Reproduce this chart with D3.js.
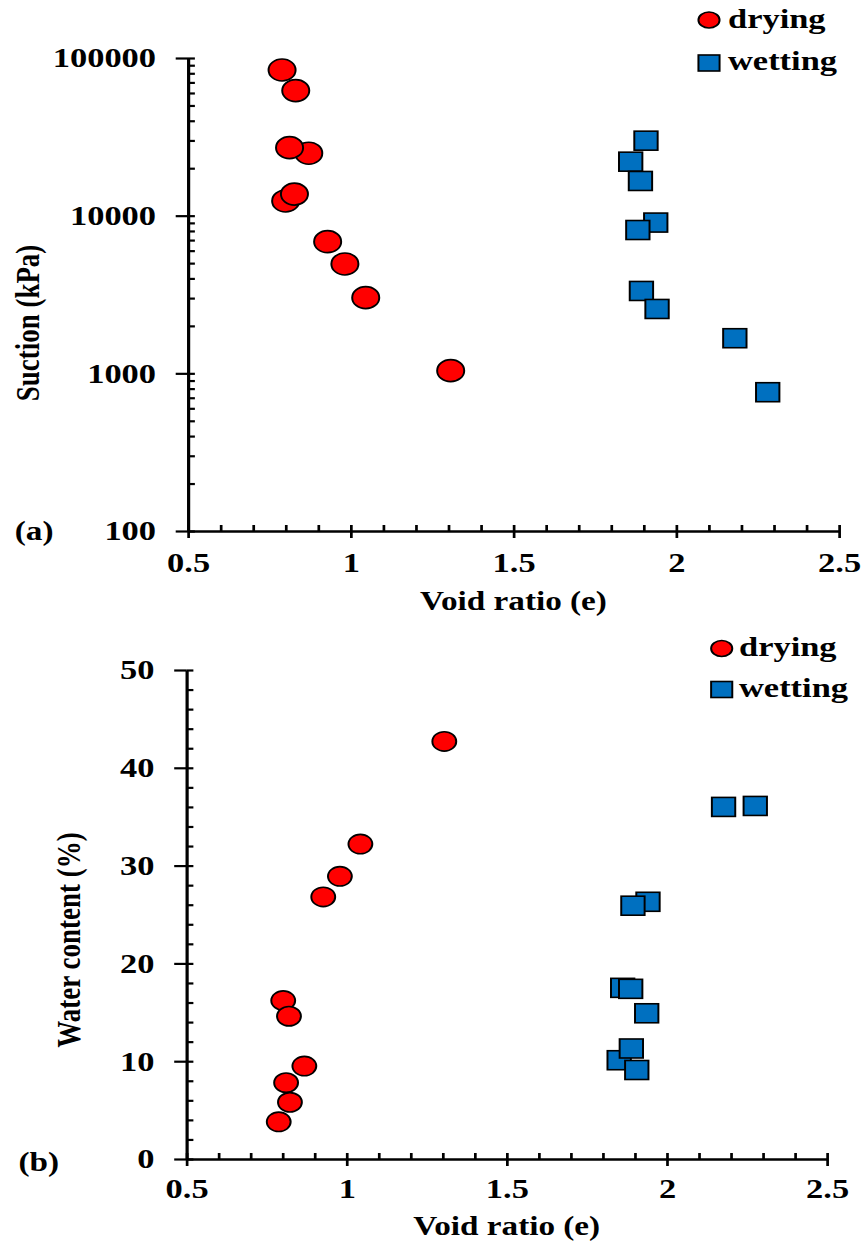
<!DOCTYPE html>
<html>
<head>
<meta charset="utf-8">
<script src="https://cdn.jsdelivr.net/npm/d3@7"></script>
<style>
  body { margin: 0; background: #fff; }
</style>
</head>
<body>
<div id="chart"></div>
<script>
const seriesNames = ['drying', 'wetting'];
const seriesColors = ['#ff0000', '#0070c0'];

// (a) suction vs void ratio
const dryingVoidA = [0.789, 0.831, 0.871, 0.812, 0.800, 0.827, 0.929, 0.982, 1.046, 1.307];
const dryingSuction = [83900, 62100, 24900, 27000, 12400, 13700, 6840, 4940, 3020, 1040];
const wettingVoidA = [1.907, 1.860, 1.890, 1.937, 1.882, 1.893, 1.941, 2.180, 2.281];
const wettingSuction = [29900, 22000, 16600, 9040, 8110, 3330, 2560, 1670, 759];

// (b) water content vs void ratio
const dryingVoidB = [1.305, 1.043, 0.979, 0.927, 0.802, 0.820, 0.868, 0.811, 0.823, 0.788];
const dryingWater = [42.7, 32.2, 28.9, 26.8, 16.2, 14.6, 9.5, 7.8, 5.8, 3.8];
const wettingVoidB = [2.177, 2.276, 1.941, 1.894, 1.862, 1.887, 1.937, 1.851, 1.889, 1.906];
const wettingWater = [36.0, 36.1, 26.3, 25.9, 17.5, 17.4, 14.9, 10.1, 11.3, 9.1];

const xTicks = [0.5, 1, 1.5, 2, 2.5];
const suctionTicks = [100, 1000, 10000, 100000];
const waterTicks = [0, 10, 20, 30, 40, 50];
const panelLabels = ['(a)', '(b)'];

const width = 867, height = 1245;
const stretch = 1.23; // the picture is stretched sideways, so draw narrow and scale
const vx = px => px / stretch;
const fontFamily = '"Liberation Serif", "Times New Roman", Tinos, serif';

const svg = d3.select('#chart')
              .append('svg')
              .attr('width', width)
              .attr('height', height);

const root = svg.append('g').attr('transform', `scale(${stretch},1)`);

function drawPanel(p) {
    const g = root.append('g');
    const x = d3.scaleLinear().domain([0.5, 2.5]).range([vx(p.left), vx(p.right)]);
    const y = p.y;
    const [y0, y1] = y.range();

    // minor ticks, inside
    g.append('g')
     .attr('transform', `translate(0,${y0})`)
     .call(d3.axisBottom(x).tickValues(d3.range(5, 26).map(v => v / 10)).tickSize(-6).tickSizeOuter(0).tickFormat(''))
     .call(a => a.select('.domain').remove());
    g.append('g')
     .attr('transform', `translate(${x.range()[0]},0)`)
     .call(d3.axisLeft(y).tickValues(p.minorTicks).tickSize(-5.6).tickSizeOuter(0).tickFormat(''))
     .call(a => a.select('.domain').remove());

    // major ticks and labels
    const xAxis = g.append('g')
     .attr('transform', `translate(0,${y0})`)
     .call(d3.axisBottom(x).tickValues(xTicks).tickSize(7).tickSizeOuter(0).tickPadding(p.xPad).tickFormat(d => String(d)));
    const yAxis = g.append('g')
     .attr('transform', `translate(${x.range()[0]},0)`)
     .call(d3.axisLeft(y).tickValues(p.yTicks).tickSize(10).tickSizeOuter(0).tickPadding(16).tickFormat(d => String(d)));

    [xAxis, yAxis].forEach(a => {
        a.attr('font-size', 28);
        a.select('.domain').attr('stroke-width', 2.6);
    });
    g.selectAll('.tick line').attr('stroke', '#000').attr('stroke-width', 2.2);

    // axis titles
    g.append('text')
     .attr('x', (x.range()[0] + x.range()[1]) / 2)
     .attr('y', p.xTitleY)
     .attr('text-anchor', 'middle')
     .attr('font-size', 27)
     .text('Void ratio (e)');
    g.append('text')
     .attr('transform', `translate(${p.yTitleX},${p.yTitleY}) rotate(-90)`)
     .attr('text-anchor', 'middle')
     .attr('font-size', 27)
     .text(p.yTitle);

    g.append('text')
     .attr('x', p.labelX)
     .attr('y', p.labelY)
     .attr('font-size', 27)
     .text(p.label);

    // data
    const drying = p.dryX.map((v, i) => ({ x: v, y: p.dryY[i] }));
    const wetting = p.wetX.map((v, i) => ({ x: v, y: p.wetY[i] }));

    g.append('g').selectAll('circle')
     .data(drying)
     .enter().append('circle')
     .attr('cx', d => x(d.x))
     .attr('cy', d => y(d.y))
     .attr('r', p.dotR)
     .attr('fill', seriesColors[0])
     .attr('stroke', '#000')
     .attr('stroke-width', 1.6);

    g.append('g').selectAll('rect')
     .data(wetting)
     .enter().append('rect')
     .attr('x', d => x(d.x) - p.sq / 2)
     .attr('y', d => y(d.y) - p.sq / 2)
     .attr('width', p.sq)
     .attr('height', p.sq)
     .attr('fill', seriesColors[1])
     .attr('stroke', '#000')
     .attr('stroke-width', 1.6);

    // legend
    const lg = g.append('g').attr('transform', `translate(${vx(p.legendX)},${p.legendY})`);
    lg.append('ellipse')
      .attr('cx', 0).attr('cy', 0)
      .attr('rx', 8.6).attr('ry', 8)
      .attr('fill', seriesColors[0]).attr('stroke', '#000').attr('stroke-width', 1.6);
    lg.append('rect')
      .attr('x', -8.6).attr('y', p.legendGap - 8)
      .attr('width', 17.2).attr('height', 16)
      .attr('fill', seriesColors[1]).attr('stroke', '#000').attr('stroke-width', 1.6);
    lg.selectAll('text')
      .data(seriesNames)
      .enter().append('text')
      .attr('x', vx(p.legendTextX - p.legendX))
      .attr('y', (d, i) => 7.5 + i * p.legendGap)
      .attr('font-size', 28)
      .text(d => d);
}

const minorLog = [];
[100, 1000, 10000].forEach(dec => d3.range(1, 10).forEach(k => minorLog.push(k * dec)));
minorLog.push(100000);

drawPanel({
    left: 188, right: 839,
    y: d3.scaleLog().domain([100, 100000]).range([531, 58]),
    yTicks: suctionTicks,
    minorTicks: minorLog,
    xPad: 14,
    xTitleY: 610,
    yTitle: 'Suction (kPa)', yTitleX: 32, yTitleY: 323,
    label: panelLabels[0], labelX: 12, labelY: 540,
    dryX: dryingVoidA, dryY: dryingSuction,
    wetX: wettingVoidA, wetY: wettingSuction,
    dotR: 11, sq: 19,
    legendX: 709, legendY: 20, legendTextX: 728, legendGap: 43
});

drawPanel({
    left: 186.5, right: 827,
    y: d3.scaleLinear().domain([0, 50]).range([1159, 670]),
    yTicks: waterTicks,
    minorTicks: d3.range(0, 51, 2),
    xPad: 12,
    xTitleY: 1235,
    yTitle: 'Water content (%)', yTitleX: 65, yTitleY: 940,
    label: panelLabels[1], labelX: 15, labelY: 1171,
    dryX: dryingVoidB, dryY: dryingWater,
    wetX: wettingVoidB, wetY: wettingWater,
    dotR: 9.7, sq: 19,
    legendX: 721.7, legendY: 648.5, legendTextX: 739, legendGap: 41
});

svg.selectAll('text')
   .style('font-family', fontFamily)
   .style('font-weight', 'bold')
   .style('fill', '#000');
</script>
</body>
</html>
